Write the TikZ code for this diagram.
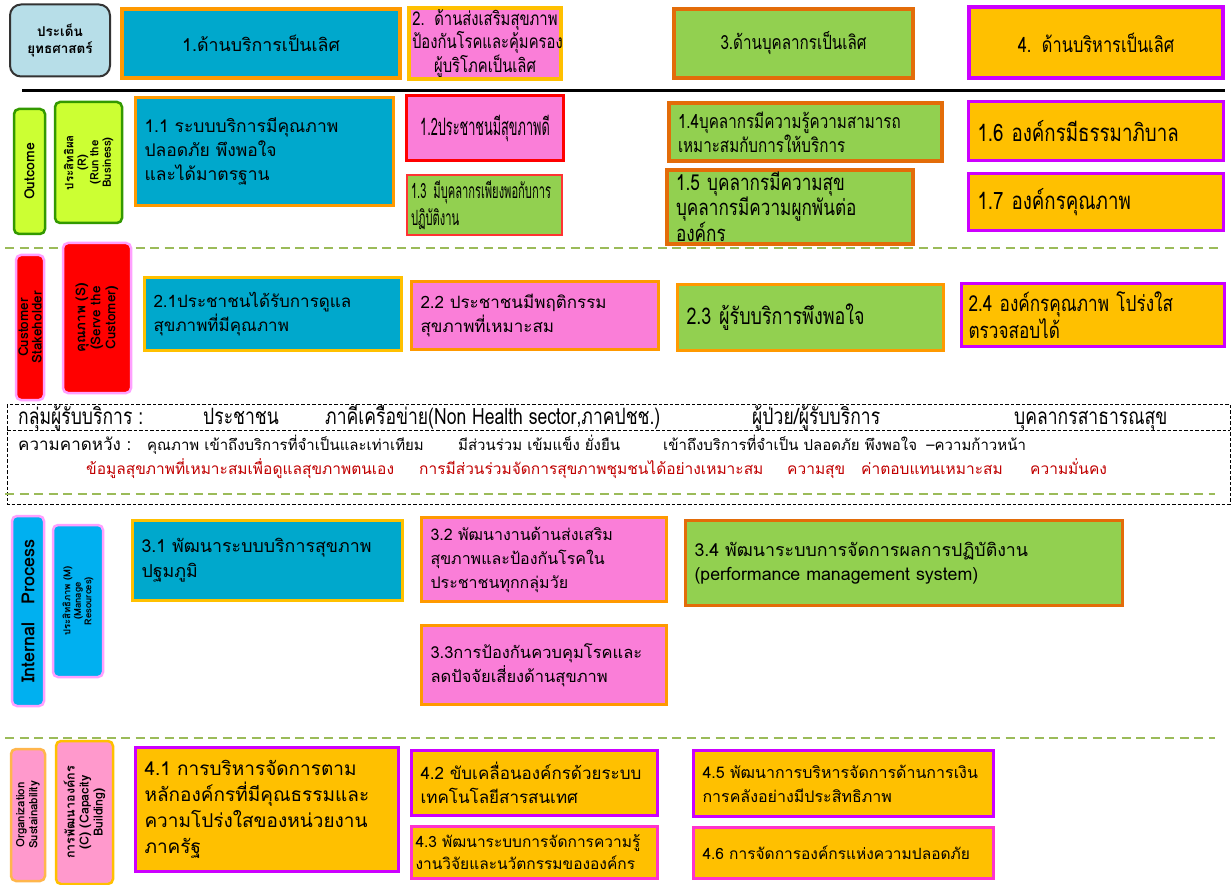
\documentclass[tikz,border=0pt]{standalone}
\usepackage{fontspec}
\setmainfont[Script=Thai]{Loma}
\newfontfamily\thnarrow[Script=Thai,FakeStretch=0.78]{Loma}
\newfontfamily\thcond[Script=Thai,FakeStretch=0.53]{Loma}
\usetikzlibrary{positioning}

\definecolor{cBlu}{RGB}{0,168,204}
\definecolor{cPnk}{RGB}{250,126,216}
\definecolor{cGrn}{RGB}{146,208,80}
\definecolor{cGld}{RGB}{255,192,0}
\definecolor{cOrg}{RGB}{255,153,0}
\definecolor{cDkOrg}{RGB}{227,108,9}
\definecolor{cPur}{RGB}{204,0,255}
\definecolor{cMag}{RGB}{255,51,204}
\definecolor{cLime}{RGB}{204,255,51}
\definecolor{cLeaf}{RGB}{51,153,0}
\definecolor{cSky}{RGB}{0,176,240}
\definecolor{cRose}{RGB}{255,153,204}
\definecolor{cGlow}{RGB}{255,160,255}
\definecolor{cHead}{RGB}{183,222,232}
\definecolor{cDash}{RGB}{155,187,89}
\definecolor{cDkRed}{RGB}{192,0,0}

\begin{document}
\begin{tikzpicture}[
  x=1pt, y=-1pt,
  cell/.style={draw, line width=3pt, inner xsep=9pt, inner ysep=2pt, align=left,
    font=\fontsize{17}{24}\selectfont},
  blucell/.style={cell, fill=cBlu, draw=cOrg},
  pnkcell/.style={cell, fill=cPnk, draw=cOrg},
  grncell/.style={cell, fill=cGrn, draw=cDkOrg},
  gldcell/.style={cell, fill=cGld, draw=cPur},
  tag/.style={draw, rotate=90, rounded corners=5pt, line width=2.5pt, align=center,
    inner sep=1pt, font=\bfseries\fontsize{12}{13}\selectfont},
  sep/.style={cDash, line width=2.3pt, dash pattern=on 9pt off 5.5pt},
  band/.style={anchor=base west, inner sep=0pt},
]
\useasboundingbox (0,0) rectangle (1231,885);

% header row
\node[draw=black!80, fill=cHead, line width=2pt, rounded corners=11pt, align=center,
  minimum width=100pt, minimum height=72pt, font=\bfseries\fontsize{13.5}{17}\selectfont]
  (hdr0) at (60,40.5) {ประเด็น\\ยุทธศาสตร์};
\node[blucell, line width=4pt, align=center, text width=260pt, minimum height=69pt,
  font=\fontsize{17.8}{22}\selectfont] (hdr1) at (261,43.5) {1.ด้านบริการเป็นเลิศ};
\node[pnkcell, draw=cGld, line width=4pt, align=center, text width=146pt, minimum height=69pt,
  inner xsep=3pt, font=\thnarrow\fontsize{19}{21}\selectfont] (hdr2) at (485,43.5)
  {2. ด้านส่งเสริมสุขภาพ\\ป้องกันโรคและคุ้มครอง\\ผู้บริโภคเป็นเลิศ};
\node[grncell, line width=4pt, align=center, text width=221pt, minimum height=69pt,
  font=\thnarrow\fontsize{19.5}{24}\selectfont] (hdr3) at (793.5,43.5) {3.ด้านบุคลากรเป็นเลิศ};
\node[gldcell, line width=4pt, align=center, text width=236pt, minimum height=71pt,
  font=\thnarrow\fontsize{21}{24}\selectfont] (hdr4) at (1096,42.5) {4. ด้านบริหารเป็นเลิศ};

\draw[line width=3pt] (22,91) -- (1225,91);

% outcome
\node[tag, fill=cLime, draw=cLeaf, minimum width=125pt, minimum height=31pt,
  font=\bfseries\fontsize{14}{15}\selectfont] (lblA) at (29.5,171.5) {Outcome};
\node[tag, fill=cLime, draw=cLeaf, minimum width=121pt, minimum height=67pt,
  font=\bfseries\fontsize{11.5}{12.5}\selectfont] (lblB) at (88.5,162.5)
  {ประสิทธิผล\\(R)\\(Run the\\Business)};
\node[blucell, text width=240pt, minimum height=108pt, font=\fontsize{17.5}{24}\selectfont]
  (c11) at (264.5,151.5) {1.1 ระบบบริการมีคุณภาพ\\ปลอดภัย พึงพอใจ\\และได้มาตรฐาน};
\node[pnkcell, draw=red, align=center, text width=139pt, minimum height=65pt,
  font=\thcond\fontsize{24}{26}\selectfont] (c12) at (485,128) {1.2ประชาชนมีสุขภาพดี};
\node[grncell, draw=red!80, line width=2pt, text width=147pt, minimum height=60pt, inner xsep=4pt,
  font=\thcond\fontsize{21}{27}\selectfont] (c13) at (484.5,205) {1.3 มีบุคลากรเพียงพอกับการ\\ปฏิบัติงาน};
\node[grncell, line width=4pt, text width=255pt, minimum height=58pt,
  font=\thnarrow\fontsize{19.5}{24}\selectfont] (c14) at (805.5,132)
  {1.4บุคลากรมีความรู้ความสามารถ\\เหมาะสมกับการให้บริการ};
\node[grncell, line width=4pt, text width=228pt, minimum height=74pt,
  font=\thnarrow\fontsize{22}{23.5}\selectfont] (c15) at (790,207)
  {1.5 บุคลากรมีความสุข\\บุคลากรมีความผูกพันต่อ\\องค์กร};
\node[gldcell, text width=237pt, minimum height=59pt, font=\thnarrow\fontsize{24}{26}\selectfont]
  (c16) at (1096,131) {1.6 องค์กรมีธรรมาภิบาล};
\node[gldcell, text width=237pt, minimum height=57pt, font=\thnarrow\fontsize{24}{26}\selectfont]
  (c17) at (1096,202) {1.7 องค์กรคุณภาพ};

\draw[sep] (5,248) -- (1220,248);

% customer
\node[tag, fill=red, draw=cGlow, minimum width=145pt, minimum height=28pt,
  font=\bfseries\fontsize{13.5}{13.5}\selectfont] (lblC) at (30,327.5) {Customer\\Stakeholder};
\node[tag, fill=red, draw=cGlow, minimum width=150pt, minimum height=68pt,
  font=\bfseries\fontsize{13.5}{15}\selectfont] (lblD) at (97,318)
  {คุณภาพ (S)\\(Serve the\\Customer)};
\node[blucell, draw=cGld, text width=239pt, minimum height=73pt]
  (c21) at (273,314) {2.1ประชาชนได้รับการดูแล\\สุขภาพที่มีคุณภาพ};
\node[pnkcell, text width=229pt, minimum height=68pt]
  (c22) at (535,315.5) {2.2 ประชาชนมีพฤติกรรม\\สุขภาพที่เหมาะสม};
\node[grncell, draw=cOrg, text width=248pt, minimum height=66pt,
  font=\thnarrow\fontsize{23}{25}\selectfont] (c23) at (810.5,317.5) {2.3 ผู้รับบริการพึงพอใจ};
\node[gldcell, text width=249pt, minimum height=63pt, inner xsep=7pt,
  font=\thnarrow\fontsize{22}{25}\selectfont] (c24) at (1093,315) {2.4 องค์กรคุณภาพ โปร่งใส\\ตรวจสอบได้};

% client groups
\draw[line width=0.9pt, dash pattern=on 3.5pt off 2pt] (7,404) rectangle (1230,504);
\draw[line width=0.9pt, dash pattern=on 3.5pt off 2pt] (7,430) -- (1230,430);
\begin{scope}[every node/.style={band, font=\thnarrow\fontsize{22.5}{24}\selectfont}]
  \node (g0) at (18,424) {กลุ่มผู้รับบริการ :};
  \node (g1) at (203,424) {ประชาชน};
  \node (g2) at (325,424) {ภาคีเครือข่าย(Non Health sector,ภาคปชช.)};
  \node (g3) at (752,424) {ผู้ป่วย/ผู้รับบริการ};
  \node (g4) at (1014,424) {บุคลากรสาธารณสุข};
\end{scope}
\begin{scope}[every node/.style={band, font=\fontsize{15}{17}\selectfont}]
  \node[font=\fontsize{17}{18}\selectfont] (e0) at (18,450) {ความคาดหวัง :};
  \node (e1) at (147,450) {คุณภาพ เข้าถึงบริการที่จำเป็นและเท่าเทียม};
  \node (e2) at (458,450) {มีส่วนร่วม เข้มแข็ง ยั่งยืน};
  \node (e3) at (663,450) {เข้าถึงบริการที่จำเป็น ปลอดภัย พึงพอใจ};
  \node[right=9pt of e3.base east, anchor=base west] (e4) {–ความก้าวหน้า};
\end{scope}
\begin{scope}[every node/.style={band, text=cDkRed, font=\fontsize{15.5}{17}\selectfont}]
  \node (r1) at (86,474) {ข้อมูลสุขภาพที่เหมาะสมเพื่อดูแลสุขภาพตนเอง};
  \node (r2) at (419,474) {การมีส่วนร่วมจัดการสุขภาพชุมชนได้อย่างเหมาะสม};
  \node (r3) at (787,474) {ความสุข};
  \node (r4) at (861,474) {ค่าตอบแทนเหมาะสม};
  \node (r5) at (1030,474) {ความมั่นคง};
\end{scope}
\draw[sep] (5,494) -- (1215,494);

% internal process
\node[tag, fill=cSky, draw=cGlow, minimum width=190pt, minimum height=32pt,
  font=\bfseries\fontsize{18}{19}\selectfont] (lblE) at (28,611) {Internal\hspace{18pt}Process};
\node[tag, fill=cSky, draw=cGlow, minimum width=152pt, minimum height=50pt,
  font=\bfseries\fontsize{9.5}{10.5}\selectfont] (lblF) at (78,601)
  {ประสิทธิภาพ (M)\\(Manage\\Resources)};
\node[blucell, draw=cGld, text width=252pt, minimum height=80pt, font=\fontsize{17.8}{25}\selectfont]
  (c31) at (267.5,560.5) {3.1 พัฒนาระบบบริการสุขภาพ\\ปฐมภูมิ};
\node[pnkcell, text width=227pt, minimum height=84pt, font=\fontsize{16}{24}\selectfont]
  (c32) at (544,559.5) {3.2 พัฒนางานด้านส่งเสริม\\สุขภาพและป้องกันโรคใน\\ประชาชนทุกกลุ่มวัย};
\node[pnkcell, text width=227pt, minimum height=79pt, font=\fontsize{16.5}{24}\selectfont]
  (c33) at (544,665) {3.3การป้องกันควบคุมโรคและ\\ลดปัจจัยเสี่ยงด้านสุขภาพ};
\node[grncell, text width=419pt, minimum height=85pt, font=\fontsize{17.8}{24}\selectfont]
  (c34) at (904,563) {3.4 พัฒนาระบบการจัดการผลการปฏิบัติงาน\\(performance management system)};

\draw[sep] (5,738) -- (1215,738);

% organization
\node[tag, fill=cRose, draw=cGld!70!cGlow, minimum width=132pt, minimum height=34pt,
  font=\bfseries\fontsize{11.5}{13}\selectfont] (lblG) at (28,815) {Organization\\Sustainability};
\node[tag, fill=cRose, draw=cGld, minimum width=143pt, minimum height=57pt,
  font=\bfseries\fontsize{12.5}{14}\selectfont] (lblH) at (84.5,812.5)
  {การพัฒนาองค์กร\\(C) (Capacity\\Building)};
\node[gldcell, text width=245pt, minimum height=124pt, font=\fontsize{19}{26}\selectfont]
  (c41) at (267,809.5) {4.1 การบริหารจัดการตาม\\หลักองค์กรที่มีคุณธรรมและ\\ความโปร่งใสของหน่วยงาน\\ภาครัฐ};
\node[gldcell, text width=228pt, minimum height=65pt]
  (c42) at (534.5,783) {4.2 ขับเคลื่อนองค์กรด้วยระบบ\\เทคโนโลยีสารสนเทศ};
\node[gldcell, draw=cMag, text width=238pt, minimum height=52pt, inner xsep=4pt,
  font=\fontsize{15.5}{22}\selectfont]
  (c43) at (534.5,852.5) {4.3 พัฒนาระบบการจัดการความรู้\\งานวิจัยและนวัตกรรมขององค์กร};
\node[gldcell, text width=282pt, minimum height=66pt, font=\fontsize{16}{24}\selectfont]
  (c45) at (843.5,783.5) {4.5 พัฒนาการบริหารจัดการด้านการเงิน\\การคลังอย่างมีประสิทธิภาพ};
\node[gldcell, draw=cMag, text width=282pt, minimum height=51pt, font=\fontsize{15.5}{24}\selectfont]
  (c46) at (843.5,853) {4.6 การจัดการองค์กรแห่งความปลอดภัย};
\end{tikzpicture}
\end{document}
